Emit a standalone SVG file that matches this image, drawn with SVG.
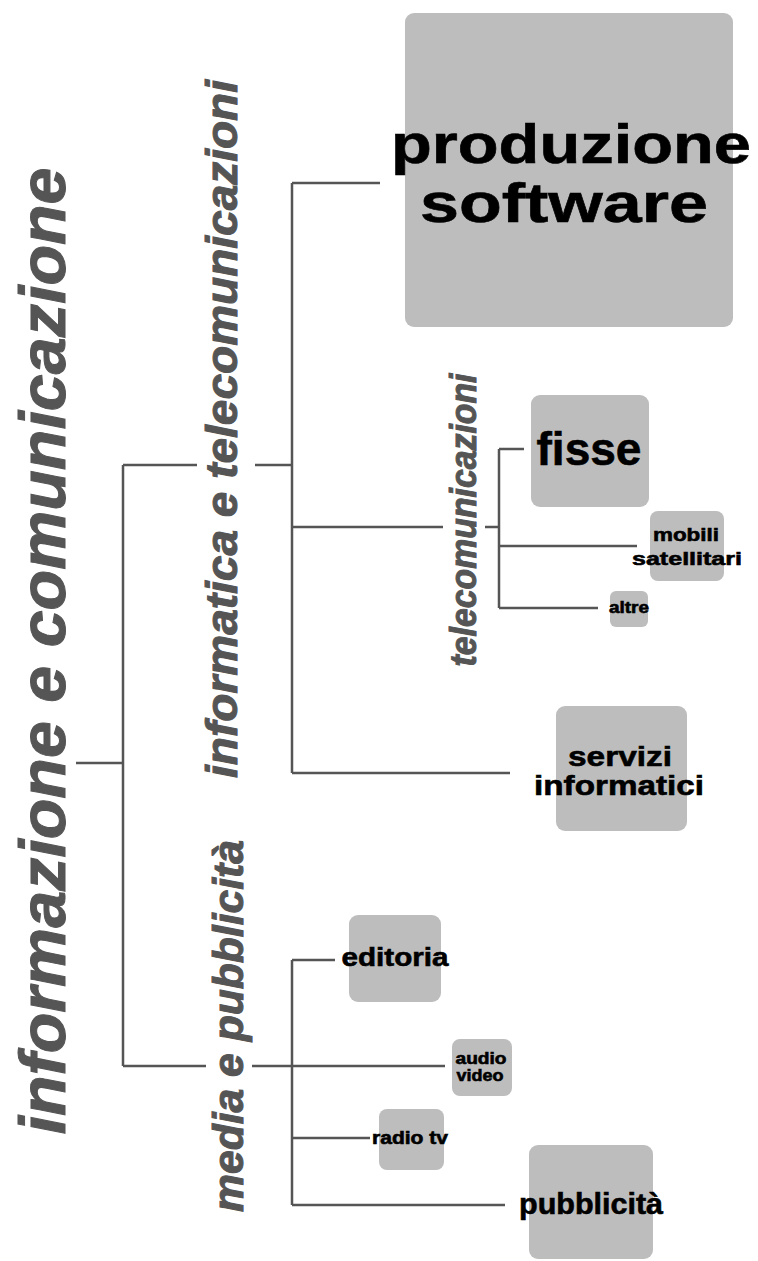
<svg xmlns="http://www.w3.org/2000/svg" width="758" height="1261" viewBox="0 0 758 1261">
<style>
.box{fill:#bdbdbd}
.lbl{font-family:"Liberation Sans",Arial,sans-serif;font-weight:bold;fill:#000;stroke:#000;stroke-width:0.6;text-anchor:middle}
.grp{font-family:"Liberation Sans",Arial,sans-serif;font-weight:bold;font-style:italic;fill:#555;stroke:#555;stroke-width:1;text-anchor:middle}
.ln{stroke:#555;stroke-width:2.5;fill:none}
</style>
<rect width="758" height="1261" fill="#fff"/>
<g id="connectors">
<path class="ln" d="M76 763H123M123 465V1066M123 465H197M255 465H292M123 1066H206M252 1066H292"/>
<path class="ln" d="M292 183V773M292 183H380M292 527H443M485 527H499M292 773H510"/>
<path class="ln" d="M499 449V608M499 449H524M499 546H637M499 608H598"/>
<path class="ln" d="M292 960V1205M292 960H335M292 1066H445M292 1138H370M292 1205H505"/>
</g>
<g id="root"><text class="grp" font-size="64" textLength="967" lengthAdjust="spacingAndGlyphs" transform="translate(65,651) rotate(-90)">informazione e comunicazione</text></g>
<g id="informatica"><text class="grp" font-size="44" textLength="698" lengthAdjust="spacingAndGlyphs" transform="translate(237,429) rotate(-90)">informatica e telecomunicazioni</text></g>
<g id="media"><text class="grp" font-size="42" textLength="372" lengthAdjust="spacingAndGlyphs" transform="translate(243,1026) rotate(-90)">media e pubblicità</text></g>
<g id="telecom"><text class="grp" font-size="36" textLength="293" lengthAdjust="spacingAndGlyphs" transform="translate(476,520) rotate(-90)">telecomunicazioni</text></g>
<g id="produzione"><rect class="box" x="405" y="13" width="328" height="314" rx="9"/>
<text class="lbl" font-size="56" x="571" y="163" textLength="360" lengthAdjust="spacingAndGlyphs">produzione</text>
<text class="lbl" font-size="56" x="564" y="222" textLength="288" lengthAdjust="spacingAndGlyphs">software</text></g>
<g id="fisse"><rect class="box" x="531" y="395" width="118" height="112" rx="9"/>
<text class="lbl" font-size="46" x="589" y="465" textLength="105" lengthAdjust="spacingAndGlyphs">fisse</text></g>
<g id="mobili"><rect class="box" x="650" y="511" width="74" height="70" rx="8"/>
<text class="lbl" font-size="19" x="686" y="541" textLength="66" lengthAdjust="spacingAndGlyphs">mobili</text>
<text class="lbl" font-size="19" x="687" y="565" textLength="110" lengthAdjust="spacingAndGlyphs">satellitari</text></g>
<g id="altre"><rect class="box" x="610" y="591" width="38" height="36" rx="6"/>
<text class="lbl" font-size="16" x="629" y="613" textLength="40" lengthAdjust="spacingAndGlyphs">altre</text></g>
<g id="servizi"><rect class="box" x="556" y="706" width="131" height="125" rx="9"/>
<text class="lbl" font-size="28" x="620" y="766" textLength="104" lengthAdjust="spacingAndGlyphs">servizi</text>
<text class="lbl" font-size="28" x="619" y="795" textLength="170" lengthAdjust="spacingAndGlyphs">informatici</text></g>
<g id="editoria"><rect class="box" x="349" y="915" width="92" height="87" rx="9"/>
<text class="lbl" font-size="26" x="395" y="966" textLength="107" lengthAdjust="spacingAndGlyphs">editoria</text></g>
<g id="audio"><rect class="box" x="452" y="1039" width="60" height="57" rx="8"/>
<text class="lbl" font-size="16" x="481" y="1064" textLength="51" lengthAdjust="spacingAndGlyphs">audio</text>
<text class="lbl" font-size="16" x="480" y="1081" textLength="47" lengthAdjust="spacingAndGlyphs">video</text></g>
<g id="radio"><rect class="box" x="379" y="1109" width="65" height="61" rx="8"/>
<text class="lbl" font-size="18" x="410" y="1144" textLength="76" lengthAdjust="spacingAndGlyphs">radio tv</text></g>
<g id="pubblicita"><rect class="box" x="529" y="1145" width="124" height="114" rx="9"/>
<text class="lbl" font-size="29" x="591" y="1214" textLength="144" lengthAdjust="spacingAndGlyphs">pubblicità</text></g>
</svg>
